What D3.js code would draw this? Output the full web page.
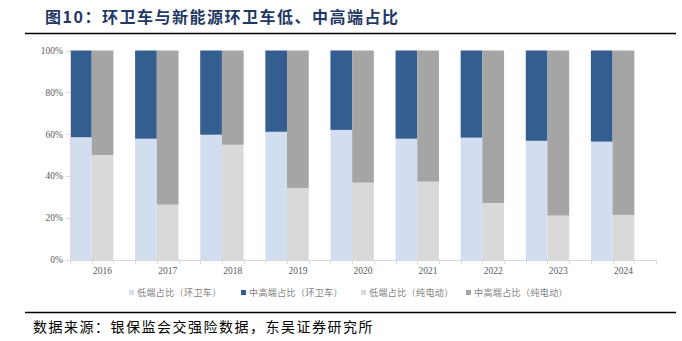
<!DOCTYPE html>
<html><head><meta charset="utf-8">
<script src="https://cdn.jsdelivr.net/npm/d3@7"></script>
<style>
body{margin:0;background:#fff;}
svg{display:block;}
</style></head>
<body>
<svg id="c" width="682" height="341"></svg>
<script>
const years = ["2016","2017","2018","2019","2020","2021","2022","2023","2024"];
const lowSanitation = [58.6,57.9,59.8,61.2,62.1,57.9,58.4,56.9,56.5];
const lowElectric = [50.1,26.4,55.0,34.4,36.9,37.4,27.2,21.2,21.5];
const yTicks = [0,20,40,60,80,100];
const seriesNames = ["低端占比（环卫车）","中高端占比（环卫车）","低端占比（纯电动）","中高端占比（纯电动）"];
const colors = ["#D2DEEF","#335E8F","#D9D9D9","#A5A5A5"];
const titleText = "图10：环卫车与新能源环卫车低、中高端占比";
const sourceText = "数据来源：银保监会交强险数据，东吴证券研究所";

const svg = d3.select("#c");
const x = d3.scaleBand().domain(years).range([70,656]).paddingInner(0).paddingOuter(0);
const slot = x.bandwidth()/3;
const y = d3.scaleLinear().domain([0,100]).range([260,50.5]);

// title
svg.append("text").attr("x",45).attr("y",23).attr("font-family","Noto Sans CJK SC").attr("font-weight","bold")
  .attr("font-size",16).attr("letter-spacing",1.5).attr("fill","#1F3864").text(titleText);
svg.append("line").attr("x1",25).attr("x2",676).attr("y1",33.5).attr("y2",33.5).attr("stroke","#000").attr("stroke-width",1.6);

// bars
const g = svg.append("g");
years.forEach((yr,i)=>{
  const x0 = x(yr);
  const stacks = [
    {x:x0, parts:[[0,lowSanitation[i],colors[0]],[lowSanitation[i],100,colors[1]]]},
    {x:x0+slot, parts:[[0,lowElectric[i],colors[2]],[lowElectric[i],100,colors[3]]]}
  ];
  stacks.forEach(s=>{
    s.parts.forEach(p=>{
      g.append("rect").attr("x",s.x).attr("width",slot).attr("y",y(p[1])).attr("height",y(p[0])-y(p[1])).attr("fill",p[2]);
    });
  });
});

// x axis
svg.append("line").attr("x1",70).attr("x2",656).attr("y1",260.5).attr("y2",260.5).attr("stroke","#D9D9D9");
const nSlots = years.length*3;
for(let k=0;k<=nSlots;k++){
  const xx = Math.round(70 + k*slot)+0.5;
  svg.append("line").attr("x1",xx).attr("x2",xx).attr("y1",260).attr("y2",264).attr("stroke","#D9D9D9");
}
svg.append("g").selectAll("text").data(years).join("text")
  .attr("x",d=>x(d)+x.bandwidth()/2).attr("y",274).attr("text-anchor","middle")
  .attr("font-family","Liberation Serif").attr("font-size",9.5).attr("fill","#595959").text(d=>d);

// y axis
svg.append("line").attr("x1",70.5).attr("x2",70.5).attr("y1",50.5).attr("y2",260).attr("stroke","#D9D9D9");
svg.append("g").selectAll("line").data(yTicks).join("line")
  .attr("x1",66).attr("x2",70).attr("y1",d=>Math.round(y(d))+0.5).attr("y2",d=>Math.round(y(d))+0.5).attr("stroke","#D9D9D9");
svg.append("g").selectAll("text").data(yTicks).join("text")
  .attr("x",63).attr("y",d=>y(d)+3.2).attr("text-anchor","end")
  .attr("font-family","Liberation Serif").attr("font-size",9.5).attr("fill","#595959").text(d=>d+"%");

// legend
const legX = [129,241,361,466];
seriesNames.forEach((n,i)=>{
  svg.append("rect").attr("x",legX[i]).attr("y",290).attr("width",5).attr("height",5).attr("fill",colors[i]);
  svg.append("text").attr("x",legX[i]+8).attr("y",296).attr("font-family","Noto Sans CJK SC")
    .attr("font-size",9).attr("letter-spacing",0.4).attr("fill","#7F7F7F").text(n);
});

// source
svg.append("line").attr("x1",25).attr("x2",676).attr("y1",312.5).attr("y2",312.5).attr("stroke","#000").attr("stroke-width",1.6);
svg.append("text").attr("x",33).attr("y",332).attr("font-family","Noto Sans CJK SC")
  .attr("font-size",14).attr("letter-spacing",1.5).attr("fill","#000").text(sourceText);
</script>
</body></html>
